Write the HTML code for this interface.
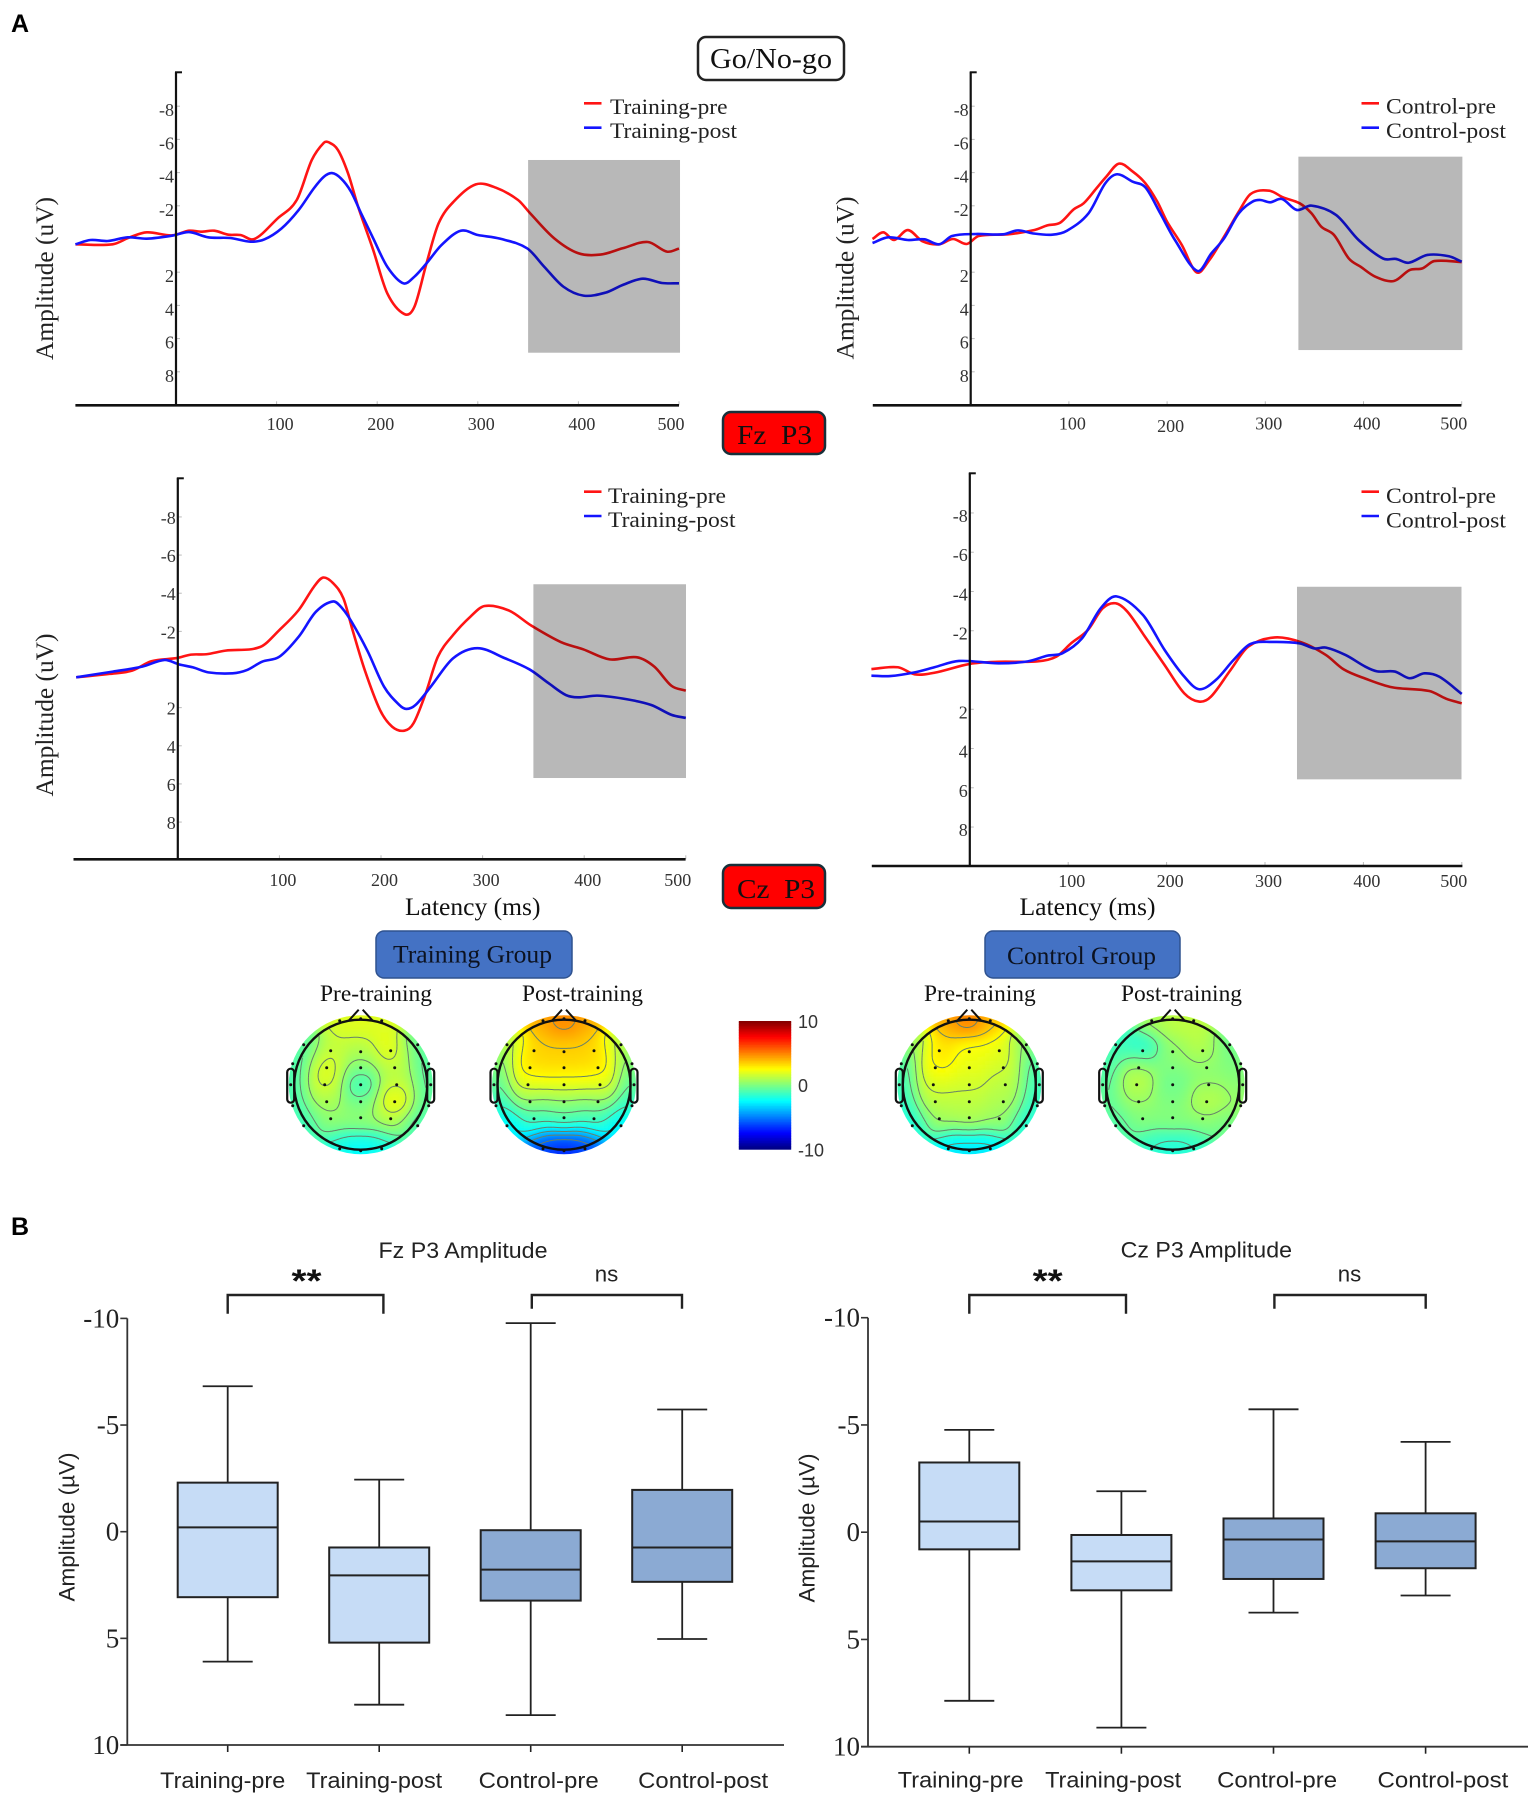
<!DOCTYPE html>
<html lang="en">
<head>
<meta charset="utf-8">
<title>Go/No-go P3 ERP figure</title>
<style>
html,body{margin:0;padding:0;background:#fff;}
svg{display:block;}
.serif{font-family:"Liberation Serif",serif;}
.sans{font-family:"Liberation Sans",sans-serif;}
</style>
</head>
<body>
<svg id="fig" xmlns="http://www.w3.org/2000/svg" width="1535" height="1800" viewBox="0 0 1535 1800">
<rect x="0" y="0" width="1535" height="1800" fill="#ffffff"/>
<text class="sans" x="11" y="32" font-size="25" font-weight="700" fill="#000">A</text>
<text class="sans" x="11" y="1235" font-size="25" font-weight="700" fill="#000">B</text>

<rect x="698" y="37" width="146" height="43" rx="8" fill="#fff" stroke="#222" stroke-width="2.5"/>
<text class="serif" x="710" y="68" font-size="29" textLength="122" lengthAdjust="spacingAndGlyphs" fill="#111">Go/No-go</text>
<rect x="723" y="412" width="102" height="42" rx="8" fill="#ff0000" stroke="#17303a" stroke-width="2.5"/>
<text class="serif" x="737" y="444" font-size="27" textLength="75" lengthAdjust="spacingAndGlyphs" fill="#111" xml:space="preserve">Fz  P3</text>
<rect x="723" y="865" width="102" height="43" rx="8" fill="#ff0000" stroke="#17303a" stroke-width="2.5"/>
<text class="serif" x="737" y="898" font-size="27" textLength="78" lengthAdjust="spacingAndGlyphs" fill="#111" xml:space="preserve">Cz  P3</text>

<text class="serif" x="405" y="915" font-size="25" textLength="135.5" lengthAdjust="spacingAndGlyphs" fill="#111">Latency (ms)</text>
<text class="serif" x="1019.5" y="915" font-size="25" textLength="136" lengthAdjust="spacingAndGlyphs" fill="#111">Latency (ms)</text>

<rect x="376" y="931" width="196" height="47" rx="8" fill="#4472c4" stroke="#2f528f" stroke-width="1.5"/>
<text class="serif" x="393" y="962.5" font-size="25" textLength="159" lengthAdjust="spacingAndGlyphs" fill="#0c1220">Training Group</text>
<rect x="985" y="931" width="195" height="47" rx="8" fill="#4472c4" stroke="#2f528f" stroke-width="1.5"/>
<text class="serif" x="1007" y="964" font-size="25" textLength="149" lengthAdjust="spacingAndGlyphs" fill="#0c1220">Control Group</text>
<text class="serif" x="320" y="1001" font-size="23" textLength="112" lengthAdjust="spacingAndGlyphs" fill="#111">Pre-training</text>
<text class="serif" x="522" y="1001" font-size="23" textLength="121" lengthAdjust="spacingAndGlyphs" fill="#111">Post-training</text>
<text class="serif" x="924" y="1001" font-size="23" textLength="111.7" lengthAdjust="spacingAndGlyphs" fill="#111">Pre-training</text>
<text class="serif" x="1121" y="1001" font-size="23" textLength="121" lengthAdjust="spacingAndGlyphs" fill="#111">Post-training</text>

<defs>
<filter id="topoBlur" x="-10%" y="-10%" width="120%" height="120%"><feGaussianBlur stdDeviation="1.6"/></filter>
</defs>
<g id="charts"></g>
</svg>

<script>
// ---------- ERP waveform data: latency (ms) and amplitude (uV) ----------
const latencyTicks = [100, 200, 300, 400, 500];
const amplitudeTicks = [-8, -6, -4, -2, 2, 4, 6, 8];

const fzTrainPreT = [-100,-63,-46,-29,-4,13,25,38,52,64,78,101,120,135,147,152,161,171,181,196,210,227,237,249,261,276,298,318,340,352,376,400,422,444,469,488,500];
const fzTrainPreV = [.32,.32,-.1,-.4,-.22,-.5,-.44,-.5,-.26,-.24,0,-1.24,-2.35,-4.76,-5.8,-5.82,-5.36,-3.96,-1.95,.66,3.27,4.52,4.08,1.47,-.94,-2.25,-3.29,-3.09,-2.35,-1.55,-.04,.86,.94,.56,.18,.76,.58];
const fzTrainPostT = [-100,-85,-68,-48,-29,-4,13,32,54,74,88,105,122,137,147,155,164,174,184,196,210,226,237,249,264,283,300,322,349,366,385,405,427,444,464,483,500];
const fzTrainPostV = [.32,.06,.12,-.1,-.02,-.2,-.42,-.1,-.06,.16,.02,-.64,-1.75,-3.05,-3.75,-3.97,-3.65,-2.85,-1.55,-.04,1.67,2.67,2.27,1.47,.36,-.5,-.24,-.02,.56,1.67,2.87,3.41,3.23,2.77,2.39,2.65,2.67];

const fzCtrlPreT = [-100,-89,-78,-64,-49,-32,-18,-4,8,38,65,78,91,105,115,128,138,151,165,178,190,200,215,230,243,258,273,285,304,318,335,347,357,370,385,397,412,431,447,460,472,500];
const fzCtrlPreV = [0,-.4,.06,-.54,.14,.32,0,.3,-.18,-.28,-.54,-.82,-.98,-1.79,-2.15,-3.05,-3.75,-4.54,-4.06,-3.35,-2.25,-1.04,.36,2.01,1.27,-.14,-1.65,-2.71,-2.91,-2.51,-2.15,-1.55,-.74,-.24,1.17,1.67,2.27,2.53,1.87,1.77,1.33,1.39];
const fzCtrlPostT = [-100,-84,-64,-47,-32,-19,5,33,48,63,83,98,120,137,149,165,178,193,208,231,245,258,273,287,295,305,317,332,347,372,395,420,433,446,465,487,500];
const fzCtrlPostV = [.24,-.1,.06,.02,.32,-.18,-.3,-.28,-.52,-.34,-.26,-.5,-1.55,-3.35,-3.9,-3.45,-3.1,-1.55,.06,1.93,.87,-.04,-1.55,-2.25,-2.35,-2.21,-2.41,-1.75,-2.01,-1.45,.06,1.18,1.2,1.43,.96,1.04,1.37];

const czTrainPreT = [-100,-67,-45,-26,-1,13,28,47,81,100,119,134,143,153,163,172,184,199,211,223,232,244,256,271,288,302,326,348,377,399,425,452,469,486,500];
const czTrainPreV = [.41,.23,.06,-.43,-.6,-.78,-.8,-.99,-1.18,-2.07,-3.12,-4.34,-4.82,-4.52,-3.73,-2.07,.03,2.12,3.0,3.21,2.82,1.25,-.67,-1.81,-2.77,-3.33,-3.09,-2.3,-1.44,-1.06,-.53,-.64,-.15,.86,1.11];
const czTrainPostT = [-100,-64,-35,-13,1,15,30,54,68,83,100,119,136,153,162,172,187,203,218,225,234,249,271,295,322,346,365,382,394,413,442,466,486,500];
const czTrainPostV = [.41,.11,-.15,-.5,-.27,-.11,.15,.2,.03,-.41,-.67,-1.72,-3.03,-3.57,-3.2,-2.42,-.94,.9,1.86,2.07,1.86,.9,-.59,-1.12,-.59,-.01,.72,1.34,1.46,1.37,1.56,1.86,2.38,2.54];

const czCtrlPreT = [-100,-73,-56,-36,0,29,69,88,103,120,135,148,160,178,198,218,233,245,265,283,310,337,362,380,402,429,467,484,500];
const czCtrlPreV = [-.05,-.14,.22,.14,-.31,-.42,-.44,-.68,-1.36,-2.04,-3.14,-3.4,-2.98,-1.7,-.25,1.19,1.61,1.36,0,-1.19,-1.66,-1.41,-.76,-.03,.44,.88,1.07,1.46,1.7];
const czCtrlPostT = [-100,-81,-56,-36,-11,29,59,79,94,114,133,149,176,198,218,233,250,268,285,307,335,350,362,382,402,414,432,447,462,477,500];
const czCtrlPostV = [.29,.31,.12,-.14,-.46,-.34,-.44,-.73,-.85,-1.61,-3.14,-3.75,-2.8,-1.02,.34,.98,.51,-.51,-1.32,-1.43,-1.36,-1.1,-1.14,-.76,-.17,.07,.08,.42,.17,.34,1.22];

// ---------- Box plot data (uV, axis reversed) ----------
const boxCategories = ["Training-pre", "Training-post", "Control-pre", "Control-post"];
const boxTickValues = [-10, -5, 0, 5, 10];
const fzWhiskerTop = [-6.82, -2.44, -9.78, -5.73];
const fzBoxTop = [-2.3, .74, -.07, -1.96];
const fzMedian = [-.2, 2.05, 1.78, .74];
const fzBoxBottom = [3.07, 5.2, 3.23, 2.35];
const fzWhiskerBottom = [6.09, 8.11, 8.6, 5.03];
const czWhiskerTop = [-4.77, -1.91, -5.73, -4.21];
const czBoxTop = [-3.25, .13, -.64, -.88];
const czMedian = [-.5, 1.36, .34, .43];
const czBoxBottom = [.8, 2.71, 2.18, 1.68];
const czWhiskerBottom = [7.86, 9.11, 3.75, 2.95];

// ---------- Topographic map electrode amplitudes (uV), same order as the montage ----------
const trainPreTopo = [1.8,1.8,-.8,-.6,-1,-.8,-1,-.6,-1.4,-1.2,-2,-2.8,-2,1.3,1.2,2.4,2.1,0,1.0,1.9,-2,1.1,.8,0,3.2,.3,.4,.7,-1,-.7,2];
const trainPostTopo = [4,4,1,1,0,0,-1.5,-1.5,-3,-3,-6,-7,-6,3.4,3.5,3.4,3.2,3.2,3.1,2,2.1,2,.5,.5,.5,-1.5,-1.3,-1.5,-.6,-.6,5.2];
const ctrlPreTopo = [4,3.5,.5,.3,-1,-1,-1.5,-1.5,-2.2,-2,-2.8,-3,-2.8,3.2,2.3,2.2,2.7,2.1,1.6,1.7,1.6,1.1,1.3,1.3,1.0,.7,.8,.5,-1.2,-1.2,5.5];
const ctrlPostTopo = [.7,1.2,-1.2,-.4,-1,0,-.5,.6,-1,-.4,-1.5,-2,-1.5,-2.4,.5,1.3,1.3,0,0,1.3,-.6,.4,.5,.1,1.6,0,.1,0,-.7,.2,1.3];
const colorbarLabels = [10, 0, -10];

// ---------- helpers ----------
const NS = "http://www.w3.org/2000/svg";
const root = document.getElementById("charts");
function mk(tag, attrs, parent) {
  const el = document.createElementNS(NS, tag);
  for (const k in attrs) el.setAttribute(k, attrs[k]);
  (parent || root).appendChild(el);
  return el;
}
function label(parent, name, str, x, y, size, family, fill, anchor, width, rotate, weight) {
  const el = mk("text", {x: x, y: y, "font-size": size, "font-family": family, fill: fill, "text-anchor": anchor || "start"}, parent);
  
  
  if (width) { el.setAttribute("textLength", width); el.setAttribute("lengthAdjust", "spacingAndGlyphs"); }
  if (rotate) el.setAttribute("transform", "rotate(" + rotate + " " + x + " " + y + ")");
  if (weight) el.setAttribute("font-weight", weight);
  el.textContent = str;
  return el;
}
function line(parent, name, x1, y1, x2, y2, stroke, w) {
  const el = mk("line", {x1: x1, y1: y1, x2: x2, y2: y2, stroke: stroke, "stroke-width": w}, parent);
  
  
  return el;
}
const SERIF = '"Liberation Serif", serif';
const SANS = '"Liberation Sans", sans-serif';

// Hermite spline with x-aware tangents (points are monotone in x)
function smoothPath(pts) {
  const n = pts.length, m = [];
  for (let i = 0; i < n; i++) {
    const a = pts[Math.max(0, i - 1)], b = pts[Math.min(n - 1, i + 1)];
    m.push((b[1] - a[1]) / (b[0] - a[0]));
  }
  let d = "M" + pts[0][0].toFixed(2) + " " + pts[0][1].toFixed(2);
  for (let i = 0; i < n - 1; i++) {
    const p1 = pts[i], p2 = pts[i + 1], dx = (p2[0] - p1[0]) / 3;
    d += "C" + (p1[0] + dx).toFixed(2) + " " + (p1[1] + m[i] * dx).toFixed(2) + " " + (p2[0] - dx).toFixed(2) + " " + (p2[1] - m[i + 1] * dx).toFixed(2) + " " + p2[0].toFixed(2) + " " + p2[1].toFixed(2);
  }
  return d;
}

// ---------- ERP panels ----------
function erpPanel(cfg) {
  const g = mk("g", {});
  
  
  const xs = t => cfg.x0 + t * cfg.xu;
  const ys = v => cfg.y0 + v * cfg.yu;

  [[cfg.preT, cfg.preV, "#ff1414", "pre"], [cfg.postT, cfg.postV, "#1414ff", "post"]].forEach(s => {
    const n = Math.min(s[0].length, s[1].length), pts = [];
    for (let i = 0; i < n; i++) pts.push([xs(s[0][i]), ys(s[1][i])]);
    const p = mk("path", {d: smoothPath(pts), fill: "none", stroke: s[2], "stroke-width": 2.6, "stroke-linejoin": "round"}, g);
    
    
  });

  const win = mk("rect", {x: xs(cfg.win[0]), y: ys(cfg.win[2]), width: xs(cfg.win[1]) - xs(cfg.win[0]), height: ys(cfg.win[3]) - ys(cfg.win[2]), fill: "#b8b8b8", style: "mix-blend-mode:multiply"}, g);
  
  

  amplitudeTicks.forEach(v => {
    line(g, cfg.id + '-y-tick', cfg.x0, ys(v), cfg.x0 + 4, ys(v), "#bbb", 1);
    label(g, cfg.id + '-y-tick-label', String(v), cfg.x0 - 2, ys(v) + cfg.yLabelDy, 18, SERIF, "#333", "end");
  });
  latencyTicks.forEach(t => {
    line(g, cfg.id + '-x-tick', xs(t), cfg.bottom, xs(t), cfg.bottom - 4, "#bbb", 1);
    const dx = t === 500 ? -8 : 3.5;
    const dy = (cfg.bump === t) ? 2.3 : 0;
    label(g, cfg.id + '-x-tick-label', String(t), xs(t) + dx, cfg.xLabelY + dy, 18, SERIF, "#333", "middle");
  });
  line(g, cfg.id + '-y-axis', cfg.x0, cfg.top, cfg.x0, cfg.bottom, "#111", 2.2);
  line(g, cfg.id + '-y-axis-cap', cfg.x0 - 1, cfg.top, cfg.x0 + 6, cfg.top, "#111", 2);
  line(g, cfg.id + '-x-axis', cfg.xLeft, cfg.bottom, cfg.xRight, cfg.bottom, "#111", 2.6);

  if (cfg.titleX) label(g, cfg.id + '-y-axis-title', "Amplitude (uV)", cfg.titleX, cfg.titleY, 25, SERIF, "#222", "middle", 163, -90);

  const lg = cfg.legend;
  line(g, cfg.id + '-legend-pre-swatch', lg.lineX, lg.y1, lg.lineX + 17.5, lg.y1, "#ff1414", 2.6);
  line(g, cfg.id + '-legend-post-swatch', lg.lineX, lg.y2, lg.lineX + 17.5, lg.y2, "#1414ff", 2.6);
  label(g, cfg.id + '-legend-pre-label', lg.names[0], lg.textX, lg.b1, 22, SERIF, "#222", "start", lg.w[0]);
  label(g, cfg.id + '-legend-post-label', lg.names[1], lg.textX, lg.b2, 22, SERIF, "#222", "start", lg.w[1]);
}

erpPanel({id: "fz-training", preT: fzTrainPreT, preV: fzTrainPreV, postT: fzTrainPostT, postV: fzTrainPostV,
  x0: 176, xu: 1.006, y0: 239, yu: 16.6, top: 72.3, bottom: 405.3, xLeft: 75.4, xRight: 679,
  win: [350, 501, -4.76, 6.85], yLabelDy: 10, xLabelY: 430, titleX: 53, titleY: 278.5,
  legend: {lineX: 584, y1: 103.3, y2: 127.7, textX: 610, b1: 114, b2: 138, names: ["Training-pre", "Training-post"], w: [117.5, 127]}});
erpPanel({id: "fz-control", preT: fzCtrlPreT, preV: fzCtrlPreV, postT: fzCtrlPostT, postV: fzCtrlPostV,
  x0: 970.7, xu: .982, y0: 239, yu: 16.6, top: 72.3, bottom: 405.3, xLeft: 872.8, xRight: 1461.4,
  win: [333.7, 500.7, -4.96, 6.69], yLabelDy: 10, xLabelY: 429.5, bump: 200, titleX: 853.7, titleY: 278,
  legend: {lineX: 1361.5, y1: 103.3, y2: 127.7, textX: 1386, b1: 113.5, b2: 138, names: ["Control-pre", "Control-post"], w: [110, 120]}});
erpPanel({id: "cz-training", preT: czTrainPreT, preV: czTrainPreV, postT: czTrainPostT, postV: czTrainPostV,
  x0: 177.8, xu: 1.016, y0: 669.5, yu: 19.07, top: 478.3, bottom: 859.3, xLeft: 73.5, xRight: 685.6,
  win: [350, 500.2, -4.47, 5.69], yLabelDy: 7, xLabelY: 886, titleX: 53, titleY: 715,
  legend: {lineX: 584, y1: 491.7, y2: 516, textX: 608, b1: 503, b2: 527, names: ["Training-pre", "Training-post"], w: [118, 127.5]}});
erpPanel({id: "cz-control", preT: czCtrlPreT, preV: czCtrlPreV, postT: czCtrlPostT, postV: czCtrlPostV,
  x0: 969.8, xu: .984, y0: 670, yu: 19.63, top: 473.3, bottom: 866, xLeft: 871.8, xRight: 1462.4,
  win: [332.5, 499.7, -4.24, 5.57], yLabelDy: 9, xLabelY: 887, 
  legend: {lineX: 1361.5, y1: 491.7, y2: 516, textX: 1386, b1: 503, b2: 527.3, names: ["Control-pre", "Control-post"], w: [110, 120]}});

// ---------- Topomaps ----------
const montage = [[-21,-64],[21,-64],[-57,-40],[57,-40],[-68,-21],[68,-21],[-68,21],[68,21],[-57,41],[57,41],[-21,64],[0,66],[21,64],
  [-30,-34],[0,-33],[30,-34],[-34,-17],[0,-17],[34,-17],[-36,0],[0,0],[36,0],[-34,17],[0,17],[34,17],[-30,34],[0,33],[30,34],[-70,0],[70,0],[0,-66]];
function jet(v) {
  const t = (v + 10) / 20;
  const c = x => Math.round(255 * Math.max(0, Math.min(1, 1.5 - Math.abs(4 * t - x))));
  return "rgb(" + c(3) + "," + c(2) + "," + c(1) + ")";
}
let clipCount = 0;
function topomap(id, cx, cy, values) {
  const g = mk("g", {});
  
  
  const field = (dx, dy) => {
    let a = 0, b = 0;
    for (let i = 0; i < montage.length; i++) {
      const ex = montage[i][0] - dx, ey = montage[i][1] - dy;
      const w = Math.exp(-(ex * ex + ey * ey) / (2 * 13 * 13));
      a += w * values[i]; b += w;
    }
    return a / b;
  };
  const clipId = "topoClip" + (clipCount++);
  const cp = mk("clipPath", {id: clipId}, g);
  mk("ellipse", {cx: cx, cy: cy, rx: 72, ry: 69.5}, cp);
  const outer = mk("g", {"clip-path": "url(#" + clipId + ")"}, g);
  const cells = mk("g", {filter: "url(#topoBlur)"}, outer);
  const step = 4;
  for (let dx = -76; dx < 76; dx += step) {
    for (let dy = -76; dy < 76; dy += step) {
      if (dx * dx + dy * dy > 82 * 82) continue;
      const cell = mk("rect", {x: cx + dx, y: cy + dy, width: step + .4, height: step + .4, fill: jet(field(dx + step / 2, dy + step / 2))}, cells);
      
      
    }
  }
  // contour lines (marching squares on a 1px grid)
  const R = 65, N = 66;
  const grid = [];
  for (let i = 0; i <= 2 * N; i++) {
    grid.push([]);
    for (let j = 0; j <= 2 * N; j++) grid[i].push(field(i - N, j - N));
  }
  let d = "";
  for (let lv = -8.5; lv <= 8.5; lv += 1) {
    for (let i = 0; i < 2 * N; i++) for (let j = 0; j < 2 * N; j++) {
      const X = i - N, Y = j - N;
      if (X * X + Y * Y > R * R) continue;
      const a = grid[i][j], b = grid[i + 1][j], c = grid[i + 1][j + 1], e = grid[i][j + 1];
      const pts = [];
      if ((a < lv) !== (b < lv)) pts.push([X + (lv - a) / (b - a), Y]);
      if ((b < lv) !== (c < lv)) pts.push([X + 1, Y + (lv - b) / (c - b)]);
      if ((e < lv) !== (c < lv)) pts.push([X + (lv - e) / (c - e), Y + 1]);
      if ((a < lv) !== (e < lv)) pts.push([X, Y + (lv - a) / (e - a)]);
      if (pts.length >= 2) d += "M" + (cx + pts[0][0]).toFixed(1) + " " + (cy + pts[0][1]).toFixed(1) + "L" + (cx + pts[1][0]).toFixed(1) + " " + (cy + pts[1][1]).toFixed(1);
    }
  }
  const contour = mk("path", {d: d, fill: "none", stroke: "#66806a", "stroke-width": 1}, g);
  
  

  const ring = mk("ellipse", {cx: cx, cy: cy, rx: 66.5, ry: 65, fill: "none", stroke: "#111", "stroke-width": 2.4}, g);
  
  
  const nose = mk("path", {d: "M" + (cx - 12) + " " + (cy - 64) + "L" + (cx - 2) + " " + (cy - 75) + "M" + (cx + 2) + " " + (cy - 75) + "L" + (cx + 12) + " " + (cy - 64), fill: "none", stroke: "#111", "stroke-width": 2}, g);
  
  
  [-1, 1].forEach(sd => {
    const ear = mk("rect", {x: sd < 0 ? cx - 73.5 : cx + 66.5, y: cy - 16, width: 7, height: 34, rx: 3.5, fill: "none", stroke: "#111", "stroke-width": 2.2}, g);
    
    
  });
  montage.forEach(m => {
    const dot = mk("circle", {cx: cx + m[0], cy: cy + m[1], r: 1.5, fill: "#111"}, g);
    
    
  });
}
topomap("training-pre", 360.7, 1084.7, trainPreTopo);
topomap("training-post", 564, 1084.7, trainPostTopo);
topomap("control-pre", 969.3, 1084.7, ctrlPreTopo);
topomap("control-post", 1172.7, 1084.7, ctrlPostTopo);

// ---------- Colorbar ----------
(function () {
  const g = mk("g", {});
  
  
  const top = 1021, bottom = 1149.3, left = 738.8, right = 791.2;
  const yc = v => top + (10 - v) / 20 * (bottom - top);
  for (let v = 10; v > -10; v -= 0.25) {
    const s = mk("rect", {x: left, y: yc(v), width: right - left, height: yc(v - .25) - yc(v) + .4, fill: jet(v - .125)}, g);
    
    
  }
  colorbarLabels.forEach(v => {
    label(g, 'colorbar-label', String(v), 798, yc(v) + 7, 18, SANS, "#333", "start");
  });
})();

// ---------- Box plots ----------
function boxPlot(cfg) {
  const g = mk("g", {});
  
  
  const ys = v => cfg.y0 + v * cfg.yu;
  const xc = i => cfg.xFirst + i * cfg.xStep;
  const yBottom = ys(10), yTop = ys(-10);
  const ink = "#222";
  boxCategories.forEach((cat, i) => {
    const x = xc(i), hw = 50;
    line(g, cfg.id + '-whisker', x, ys(cfg.wt[i]), x, ys(cfg.wb[i]), ink, 1.8);
    line(g, cfg.id + '-whisker-cap-top', x - 25, ys(cfg.wt[i]), x + 25, ys(cfg.wt[i]), ink, 1.8);
    line(g, cfg.id + '-whisker-cap-bottom', x - 25, ys(cfg.wb[i]), x + 25, ys(cfg.wb[i]), ink, 1.8);
    const b = mk("rect", {x: x - hw, y: ys(cfg.bt[i]), width: hw * 2, height: ys(cfg.bb[i]) - ys(cfg.bt[i]), fill: i < 2 ? "#c6dcf6" : "#8baad3", stroke: ink, "stroke-width": 2}, g);
    
    
    line(g, cfg.id + '-median', x - hw, ys(cfg.med[i]), x + hw, ys(cfg.med[i]), ink, 2);
    line(g, cfg.id + '-x-tick', x, yBottom, x, yBottom + 7, ink, 1.6);
    label(g, cfg.id + '-category-label', cat, x + cfg.labelShift[i], cfg.catY, 22, SANS, "#222", "middle", cfg.labelW[i]);
  });
  line(g, cfg.id + '-y-axis', cfg.xAxis, yTop, cfg.xAxis, yBottom, "#333", 1.8);
  line(g, cfg.id + '-x-axis', cfg.xAxis - 7, yBottom, cfg.xRight, yBottom, "#333", 1.8);
  boxTickValues.forEach(v => {
    line(g, cfg.id + '-y-tick', cfg.xAxis - 7, ys(v), cfg.xAxis, ys(v), "#333", 1.6);
    label(g, cfg.id + '-y-tick-label', String(v), cfg.xAxis - 8, ys(v) + 9, 27, SERIF, "#222", "end");
  });
  label(g, cfg.id + '-y-axis-title', "Amplitude (\u00B5V)", cfg.titleX, cfg.titleY, 22, SANS, "#222", "middle", 149, -90);
  label(g, cfg.id + '-title', cfg.title, cfg.titleLeft, cfg.titleBase, 22, SANS, "#222", "start", cfg.titleW);
  const br = cfg.brackets;
  const b1 = mk("path", {d: "M" + br[0] + " 1313.7V1295H" + br[1] + "V1313.7", fill: "none", stroke: "#222", "stroke-width": 2.4}, g);
  
  
  const b2 = mk("path", {d: "M" + br[2] + " 1308.7V1295H" + br[3] + "V1308.7", fill: "none", stroke: "#222", "stroke-width": 2.4}, g);
  
  
  label(g, cfg.id + '-significance-stars', "**", cfg.starX, 1292, 32, SANS, "#111", "middle", 30, 0, "700");
  label(g, cfg.id + '-not-significant', "ns", cfg.nsX, 1281.7, 22, SANS, "#222", "middle", 23.5);
}
boxPlot({id: "fz-p3", title: "Fz P3 Amplitude", titleLeft: 378.5, titleBase: 1258, titleW: 169,
  wt: fzWhiskerTop, bt: fzBoxTop, med: fzMedian, bb: fzBoxBottom, wb: fzWhiskerBottom,
  y0: 1531.7, yu: 21.33, xAxis: 127.3, xRight: 784, xFirst: 227.7, xStep: 151.5,
  labelShift: [-5, -5, 8, 21], labelW: [125, 136, 120, 130], catY: 1788,
  titleX: 74.5, titleY: 1527, brackets: [227.7, 383.4, 531.8, 682], starX: 306.5, nsX: 606.5});
boxPlot({id: "cz-p3", title: "Cz P3 Amplitude", titleLeft: 1120.6, titleBase: 1257.5, titleW: 171.4,
  wt: czWhiskerTop, bt: czBoxTop, med: czMedian, bb: czBoxBottom, wb: czWhiskerBottom,
  y0: 1532.2, yu: 21.45, xAxis: 868, xRight: 1528, xFirst: 969.3, xStep: 152.1,
  labelShift: [-8.6, -8.3, 3.6, 17.3], labelW: [125.8, 136, 120, 130.7], catY: 1787.5,
  titleX: 814.5, titleY: 1528, brackets: [969.3, 1126, 1274.4, 1425.7], starX: 1047.6, nsX: 1349.5});
</script>
</body>
</html>
